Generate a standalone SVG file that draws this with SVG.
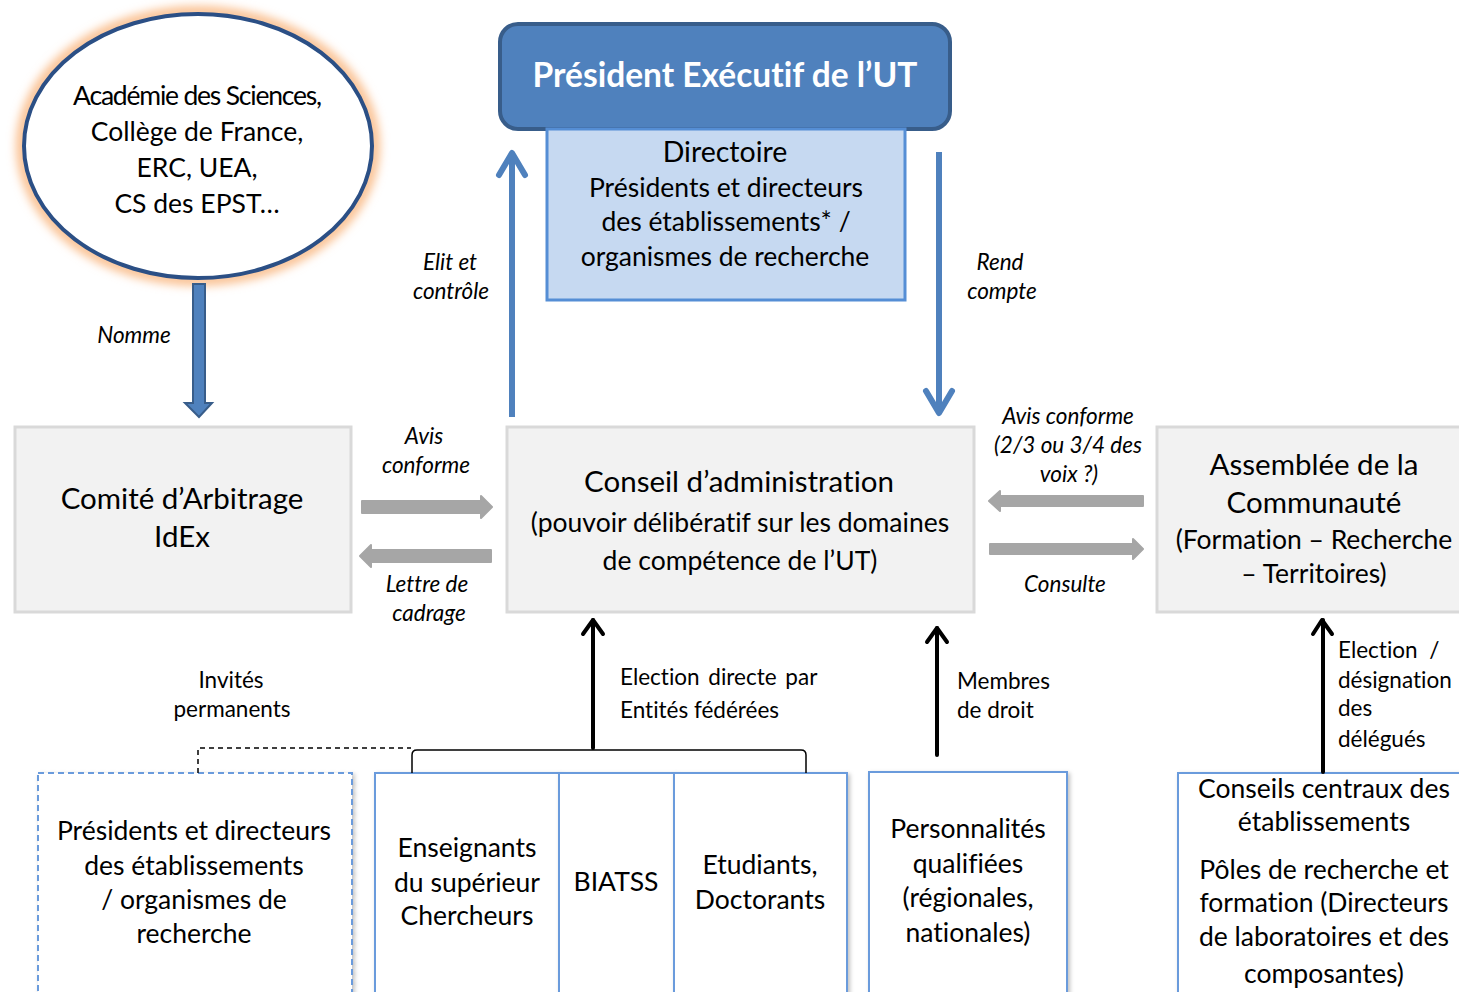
<svg xmlns="http://www.w3.org/2000/svg" width="1459" height="992" viewBox="0 0 1459 992">
<defs>
<style>
text{font-family:Lato,"Open Sans","Liberation Sans",sans-serif;fill:#000;text-anchor:middle;font-variant-ligatures:none}
.it{font-style:italic;font-size:22.5px}
.lb{font-size:22.5px}
.mid{font-size:26.5px}
.big{font-size:29.5px}
.gbox{fill:#F2F2F2;stroke:#D9D9D9;stroke-width:3}
.wbox{fill:#fff;stroke:#6A9BDC;stroke-width:2}
.blk{stroke:#000;stroke-width:4;fill:none;stroke-linecap:round;stroke-linejoin:round}
.blue{stroke:#4F81BD;stroke-width:6;fill:none;stroke-linejoin:round}
.gray{fill:#A6A6A6}
</style>
<filter id="glow" x="-20%" y="-20%" width="140%" height="140%"><feGaussianBlur stdDeviation="5"/></filter>
<filter id="sh" x="-10%" y="-10%" width="120%" height="120%"><feDropShadow dx="2" dy="2" stdDeviation="2" flood-color="#000" flood-opacity="0.25"/></filter>
</defs>
<rect width="1459" height="992" fill="#fff"/>

<g id="academie">
<ellipse cx="198" cy="146" rx="176" ry="134" fill="none" stroke="#FAC090" stroke-width="12" filter="url(#glow)"/>
<ellipse cx="198" cy="146" rx="174" ry="132" fill="#fff" stroke="#2B4F85" stroke-width="4"/>
<text class="mid" x="197" y="105" letter-spacing="-1.2">Académie des Sciences,</text>
<text class="mid" x="197" y="141">Collège de France,</text>
<text class="mid" x="197" y="177">ERC, UEA,</text>
<text class="mid" x="197" y="213">CS des EPST…</text>
</g>

<g id="president">
<rect x="500" y="24" width="450" height="105" rx="18" fill="#4F81BD" stroke="#385D8A" stroke-width="4"/>
<text x="725" y="87" font-size="33.5" font-weight="bold" style="fill:#fff">Président Exécutif de l’UT</text>
</g>

<g id="directoire">
<rect x="547" y="129" width="358" height="171" fill="#C6D9F1" stroke="#558ED5" stroke-width="3"/>
<text x="725" y="162" font-size="28.5">Directoire</text>
<text class="mid" x="726" y="197">Présidents et directeurs</text>
<text class="mid" x="726" y="231">des établissements*  /</text>
<text class="mid" x="725" y="266">organismes de recherche</text>
</g>

<g id="comite">
<rect class="gbox" x="15" y="427" width="336" height="185"/>
<text class="big" x="182" y="509">Comité d’Arbitrage</text>
<text class="big" x="182" y="547">IdEx</text>
</g>

<g id="conseil">
<rect class="gbox" x="507" y="427" width="467" height="185"/>
<text class="big" x="739" y="492">Conseil d’administration</text>
<text class="mid" x="740" y="532">(pouvoir délibératif sur les domaines</text>
<text class="mid" x="740" y="570">de compétence de l’UT)</text>
</g>

<g id="assemblee">
<rect class="gbox" x="1157" y="427" width="310" height="185"/>
<text class="big" x="1314" y="475">Assemblée de la</text>
<text class="big" x="1314" y="513">Communauté</text>
<text class="mid" x="1314" y="549">(Formation – Recherche</text>
<text class="mid" x="1314" y="583">– Territoires)</text>
</g>

<g id="presidents-invites">
<rect x="38" y="773" width="314" height="225" fill="#fff" stroke="#6A9BDC" stroke-width="2" stroke-dasharray="6,4" filter="url(#sh)"/>
<text class="mid" x="194" y="840">Présidents et directeurs</text>
<text class="mid" x="194" y="875">des établissements</text>
<text class="mid" x="194" y="909">/ organismes de</text>
<text class="mid" x="194" y="943">recherche</text>
</g>

<g id="enseignants">
<rect class="wbox" x="375" y="773" width="184" height="225" filter="url(#sh)"/>
<text class="mid" x="467" y="857">Enseignants</text>
<text class="mid" x="467" y="892">du supérieur</text>
<text class="mid" x="467" y="925">Chercheurs</text>
</g>
<g id="biatss">
<rect class="wbox" x="559" y="773" width="115" height="225" filter="url(#sh)"/>
<text class="mid" x="616" y="891">BIATSS</text>
</g>
<g id="etudiants">
<rect class="wbox" x="674" y="773" width="173" height="225" filter="url(#sh)"/>
<text class="mid" x="760" y="874">Etudiants,</text>
<text class="mid" x="760" y="909">Doctorants</text>
</g>

<g id="personnalites">
<rect class="wbox" x="869" y="772" width="198" height="226" filter="url(#sh)"/>
<text class="mid" x="968" y="838">Personnalités</text>
<text class="mid" x="968" y="873">qualifiées</text>
<text class="mid" x="968" y="907">(régionales,</text>
<text class="mid" x="968" y="942">nationales)</text>
</g>

<g id="conseils-centraux">
<rect class="wbox" x="1178" y="773" width="290" height="225" filter="url(#sh)"/>
<text class="mid" x="1324" y="798">Conseils centraux des</text>
<text class="mid" x="1324" y="831">établissements</text>
<text class="mid" x="1324" y="879">Pôles de recherche et</text>
<text class="mid" x="1324" y="912">formation (Directeurs</text>
<text class="mid" x="1324" y="946">de laboratoires et des</text>
<text class="mid" x="1324" y="983">composantes)</text>
</g>

<g id="connectors">
<!-- Nomme -->
<path d="M193 284 H205 V403 H212 L199 417 L185 403 H193 Z" fill="#4F81BD" stroke="#385D8A" stroke-width="2"/>
<text class="it" x="134" y="343">Nomme</text>
<!-- Elit et controle -->
<path class="blue" d="M512 417 V153"/>
<path class="blue" d="M499 175 L512 153 L525 175" stroke-linecap="round"/>
<text class="it" x="450" y="270">Elit et</text>
<text class="it" x="451" y="299">contrôle</text>
<!-- Rend compte -->
<path class="blue" d="M939 152 V413"/>
<path class="blue" d="M926 391 L939 413 L952 391" stroke-linecap="round"/>
<text class="it" x="1000" y="270">Rend</text>
<text class="it" x="1002" y="299">compte</text>
<!-- gray arrows left -->
<path class="gray" d="M362 501 H481 V496 L492 507 L481 518 V513 H362 Z" stroke="#A6A6A6" stroke-width="2" stroke-linejoin="round"/>
<path class="gray" d="M491 550 H371 V545 L360 556 L371 567 V562 H491 Z" stroke="#A6A6A6" stroke-width="2" stroke-linejoin="round"/>
<text class="it" x="424" y="444">Avis</text>
<text class="it" x="426" y="473">conforme</text>
<text class="it" x="427" y="592">Lettre de</text>
<text class="it" x="429" y="621">cadrage</text>
<!-- gray arrows right -->
<path class="gray" d="M1143 496 H1000 V491 L989 501 L1000 511 V506 H1143 Z" stroke="#A6A6A6" stroke-width="2" stroke-linejoin="round"/>
<path class="gray" d="M990 544 H1133 V539 L1143 549 L1133 559 V554 H990 Z" stroke="#A6A6A6" stroke-width="2" stroke-linejoin="round"/>
<text class="it" x="1068" y="424">Avis conforme</text>
<text class="it" x="1068" y="453">(2/3 ou 3/4 des</text>
<text class="it" x="1069" y="482">voix ?)</text>
<text class="it" x="1065" y="592">Consulte</text>
<!-- Invites permanents dashed -->
<path d="M198 773 V748 H411" fill="none" stroke="#000" stroke-width="1.5" stroke-dasharray="5,4"/>
<text class="lb" x="231" y="688">Invités</text>
<text class="lb" x="232" y="717">permanents</text>
<!-- bracket -->
<path d="M412 773 V755 Q412 750 417 750 H801 Q806 750 806 755 V773" fill="none" stroke="#000" stroke-width="1.5"/>
<!-- election directe -->
<path class="blk" d="M593 748 V620"/>
<path class="blk" d="M583 634 L593 620 L603 634"/>
<text class="lb" x="620" y="685" style="text-anchor:start" word-spacing="3">Election directe par</text>
<text class="lb" x="620" y="718" style="text-anchor:start">Entités fédérées</text>
<!-- membres de droit -->
<path class="blk" d="M937 755 V628"/>
<path class="blk" d="M927 642 L937 628 L947 642"/>
<text class="lb" x="957" y="689" style="text-anchor:start">Membres</text>
<text class="lb" x="957" y="718" style="text-anchor:start">de droit</text>
<!-- election designation -->
<path class="blk" d="M1323 772 V620"/>
<path class="blk" d="M1313 634 L1322 620 L1332 634"/>
<text class="lb" x="1338" y="658" style="text-anchor:start" xml:space="preserve">Election  /</text>
<text class="lb" x="1338" y="688" style="text-anchor:start">désignation</text>
<text class="lb" x="1338" y="716" style="text-anchor:start">des</text>
<text class="lb" x="1338" y="747" style="text-anchor:start">délégués</text>
</g>
</svg>
